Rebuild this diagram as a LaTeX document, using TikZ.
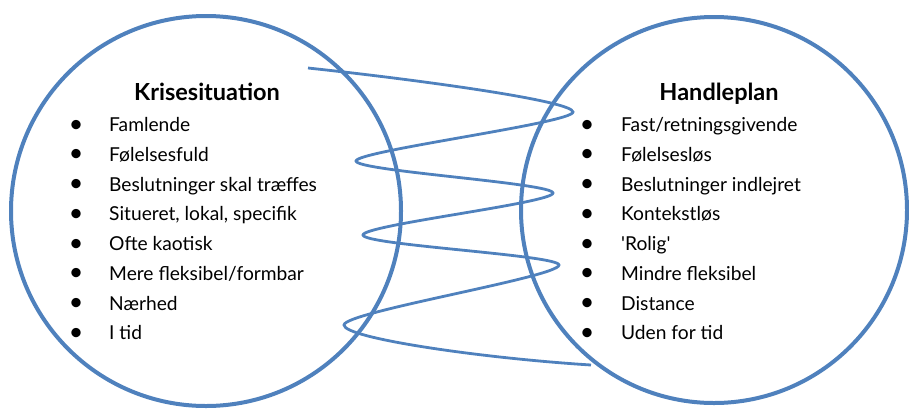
\documentclass[tikz,border=0pt]{standalone}
\usepackage{fontspec}
\setmainfont{Lato}
\usetikzlibrary{calc}
\definecolor{cblue}{HTML}{4F81BD}
\begin{document}
\begin{tikzpicture}[x=1pt,y=-1pt,
  ring/.style={circle, draw=cblue, line width=4pt, minimum size=#1, inner sep=0pt},
  coil/.style={draw=cblue, line width=2.8pt},
  ttl/.style={anchor=base, font=\fontsize{23.5}{27}\selectfont\bfseries},
  itm/.style={anchor=base west, inner sep=0pt, font=\fontsize{19.2}{23}\selectfont},
  bul/.style={anchor=base, inner sep=0pt, font=\fontsize{25}{28}\selectfont}]
\useasboundingbox (0,0) rectangle (909,408);
\node[ring=390pt] (L) at (206,211) {};
\node[ring=386pt] (R) at (714,210) {};
% texts
\node[ttl] (lt) at (207,100) {Krisesituation};
\node[ttl] (rt) at (719,100) {Handleplan};
\foreach \t [count=\i] in {Famlende, Følelsesfuld, Beslutninger skal træffes, {Situeret, lokal, specifik}, Ofte kaotisk, Mere fleksibel/formbar, Nærhed, I tid}{
  \node[bul] (lb\i) at (76,{132+29.75*(\i-1)}) {•};
  \node[itm] (li\i) at (109,{131.7+29.75*(\i-1)}) {\t};
}
\foreach \t [count=\i] in {Fast/retningsgivende, Følelsesløs, Beslutninger indlejret, Kontekstløs, \textquotesingle Rolig\textquotesingle, Mindre fleksibel, Distance, Uden for tid}{
  \node[bul] (rb\i) at (587,{132+29.75*(\i-1)}) {•};
  \node[itm] (ri\i) at (621,{131.7+29.75*(\i-1)}) {\t};
}
% coil
\coordinate (s) at (308,68);
\coordinate (t1) at (573,112);
\coordinate (l1) at (356,161);
\coordinate (t2) at (553,193);
\coordinate (l2) at (363,235);
\coordinate (t3) at (559,265);
\coordinate (l3) at (344,325);
\coordinate (e) at (591,365);
\path[coil] (s) .. controls (420,80) and ($(t1)+(0,-11)$) .. (t1)
  .. controls ($(t1)+(0,11)$) and ($(l1)+(0,-10)$) .. (l1)
  .. controls ($(l1)+(0,10)$) and ($(t2)+(0,-10)$) .. (t2)
  .. controls ($(t2)+(0,10)$) and ($(l2)+(0,-10)$) .. (l2)
  .. controls ($(l2)+(0,10)$) and ($(t3)+(0,-10)$) .. (t3)
  .. controls ($(t3)+(0,12)$) and ($(l3)+(0,-13)$) .. (l3)
  .. controls ($(l3)+(0,13)$) and (480,358) .. (e);
\end{tikzpicture}
\end{document}
